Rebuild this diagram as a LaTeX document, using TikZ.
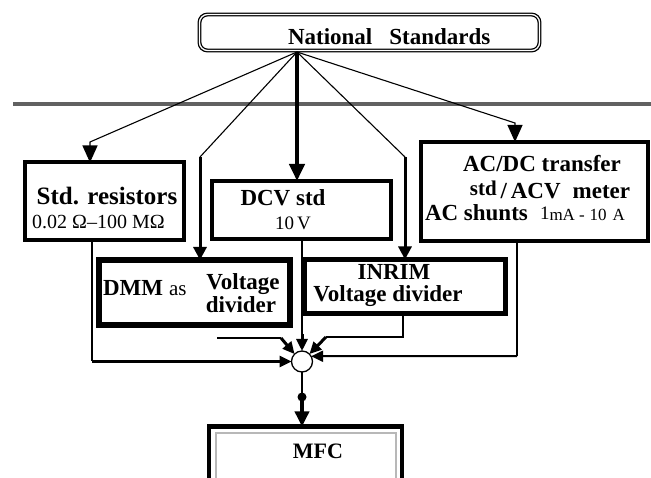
\documentclass[tikz,border=0pt]{standalone}
\usepackage{fontspec}
\setmainfont{Liberation Serif}
\usetikzlibrary{arrows.meta}
\newcommand\fsz[1]{\fontsize{#1pt}{#1pt}\selectfont}
\begin{document}
\begin{tikzpicture}[x=1pt,y=-1pt,
  every node/.style={inner sep=0pt, outer sep=0pt},
  boxs/.style={draw, rectangle, line width=4pt},
  lnthin/.style={line width=1.1pt},
  lnthick/.style={line width=3pt},
  bigtip/.style={-{Triangle[length=17pt,width=15pt]}},
  midtip/.style={-{Triangle[length=13pt,width=13pt]}},
  sumtip/.style={-{Triangle[length=12pt,width=11pt]}},
  bt/.style={anchor=base, font=\fsz{23}\bfseries},
]
\clip (0,0) rectangle (651,478);
\useasboundingbox (0,0) rectangle (651,478);

% separator line
\coordinate (gl) at (13,104);
\coordinate (gr) at (651,104);
\draw[line width=4pt, black!62] (gl) -- (gr);

% National standards
\node[draw, line width=1.3pt, double, double distance=1.3pt, rounded corners=8pt,
      minimum width=340pt, minimum height=36pt] (nat) at (369.5,32.5) {};
\node[anchor=base west, font=\fsz{23}\bfseries] (natt) at (288,45) {National\hspace{17pt}Standards};
\coordinate (src) at (297,52);

% boxes
\node[boxs, minimum width=159pt, minimum height=78pt] (sr) at (104,201.5) {};
\node[bt, font=\fsz{25}\bfseries] (srt1) at (107,205) {Std. resistors};
\node[anchor=base, font=\fsz{20}] (srt2) at (98.5,229) {0.02 Ω–100 MΩ};

\node[boxs, minimum width=179pt, minimum height=58pt] (dcv) at (301.5,210) {};
\node[bt] (dcvt1) at (283,206) {DCV std};
\node[anchor=base, font=\fsz{19}] (dcvt2) at (293,230) {10\,V};

\node[boxs, minimum width=227pt, minimum height=99pt] (ac) at (534.5,191.5) {};
\node[bt] (act1) at (542,172) {AC/DC transfer};
\node[anchor=base, font=\fsz{23}\bfseries] (act2) at (550,199) {\raisebox{3pt}{\fsz{21}std}\,/\,ACV\hspace{12pt}meter};
\node[anchor=base west, font=\fsz{23}\bfseries] (act3) at (425,221) {AC shunts};
\node[anchor=base west, font=\fsz{17}] (act4) at (540,221) {\raisebox{1.5pt}{\fsz{19}1}mA\hspace{4pt}-\hspace{5pt}10\hspace{6pt}A};

\node[boxs, line width=5.5pt, minimum width=191pt, minimum height=65pt] (dmm) at (194.5,292.5) {};
\node[anchor=base west, font=\fsz{23}\bfseries] (dmmt1) at (103,296) {DMM\hspace{6pt}{\mdseries\fsz{21}as}};
\node[bt] (dmmt2) at (243,290) {Voltage};
\node[bt] (dmmt3) at (241,313) {divider};

\node[boxs, line width=5pt, minimum width=201pt, minimum height=54pt] (inrim) at (405,286.5) {};
\node[bt] (inrimt1) at (394,280) {INRIM};
\node[bt] (inrimt2) at (388,302) {Voltage divider};

\node[boxs, line width=4.5pt, minimum width=193pt, minimum height=80pt] (mfc) at (305.5,466.5) {};
\node[draw=black!28, line width=2pt, minimum width=180pt, minimum height=70pt] (mfcin) at (306,468) {};
\node[bt, font=\fsz{22}\bfseries] (mfct) at (318,458) {MFC};

% summing point
\node[circle, draw, fill=white, line width=1.3pt, minimum size=21pt] (sum) at (302,361.5) {};
\node[circle, fill, minimum size=9pt] (dot) at (302,397) {};

% feeds from the national standards
\coordinate (k1) at (90,142);
\draw[lnthin, bigtip] (src) -- (k1) -- (k1 |- sr.north);
\coordinate (k2) at (200,157);
\draw[lnthin] (src) -- (k2);
\draw[lnthick, midtip] (k2) -- (k2 |- dmm.north);
\draw[line width=4pt, bigtip] (src) -- (src |- dcv.north);
\coordinate (k4) at (405,157);
\draw[lnthin] (src) -- (k4);
\draw[lnthick, midtip] (k4) -- (k4 |- inrim.north);
\coordinate (k5) at (515,123);
\draw[lnthin, bigtip] (src) -- (k5) -- (k5 |- ac.north);

% feeds into the summing point
\coordinate (m1) at (92,361.5);
\draw[lnthin] (sr.south -| m1) -- (m1);
\draw[line width=2.6pt, sumtip] (m1) -- (sum.west);

\coordinate (m2s) at (217,338);
\coordinate (m2) at (281,338);
\draw[lnthin] (m2s) -- (m2);
\draw[lnthick, sumtip] (m2) -- (sum.north west);

\coordinate (m3) at (302,334);
\draw[line width=1.5pt] (dcv.south -| m3) -- (m3);
\draw[lnthick, sumtip] (m3) -- (sum.north);

\coordinate (m4a) at (403,337);
\coordinate (m4) at (326,337);
\draw[lnthin] (inrim.south -| m4a) -- (m4a) -- (m4);
\draw[lnthick, sumtip] (m4) -- (sum.north east);

\coordinate (m5) at (517,356.25);
\draw[lnthin] (ac.south -| m5) -- (m5);
\draw[line width=2pt, sumtip] (m5) -- (sum.30);

% output to MFC
\draw[lnthin] (sum.south) -- (dot.center);
\draw[line width=3.5pt, -{Triangle[length=15pt,width=14pt]}] (dot) -- (dot |- mfc.north);
\end{tikzpicture}
\end{document}
